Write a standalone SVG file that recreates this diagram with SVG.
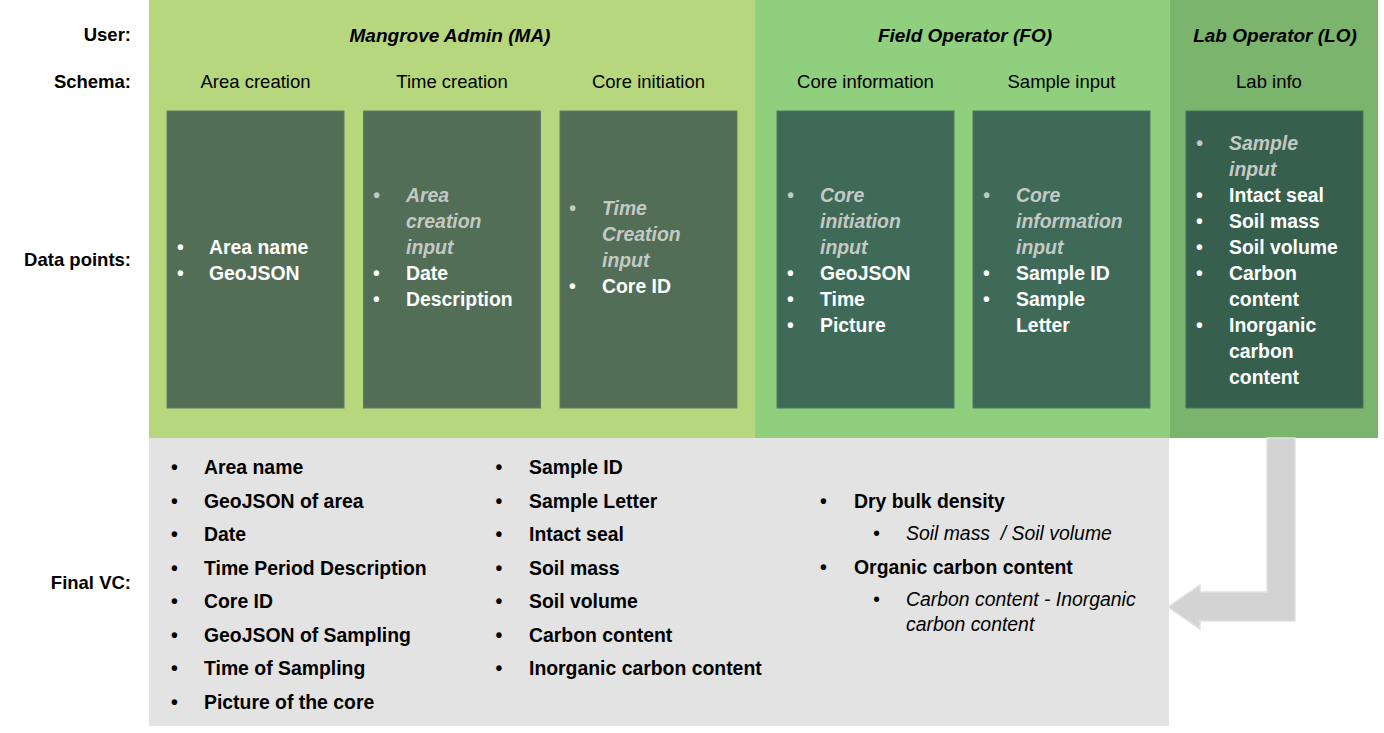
<svg xmlns="http://www.w3.org/2000/svg" width="1384" height="733" viewBox="0 0 1384 733">
<style>
text{font-family:"Liberation Sans",Arial,sans-serif;}
.lbl{font-size:18.5px;font-weight:bold;fill:#000;text-anchor:end;}
.hdr{font-size:19px;font-weight:bold;font-style:italic;fill:#000;text-anchor:middle;}
.sch{font-size:18.5px;fill:#000;text-anchor:middle;}
.w{font-size:19.4px;font-weight:bold;fill:#fff;}
.g{font-size:19.4px;font-weight:bold;font-style:italic;fill:#c4c9c5;}
.b{font-size:19.4px;font-weight:bold;fill:#000;}
.i{font-size:19.4px;font-style:italic;fill:#000;}
.boxma{fill:#526e57;stroke:#5f7b63;stroke-width:1;}
.boxfo{fill:#3f6a58;stroke:#4d7865;stroke-width:1;}
.boxlo{fill:#375f4e;stroke:#46705c;stroke-width:1;}
</style>
<rect x="0" y="0" width="1384" height="733" fill="#fff"/>
<g id="panels">
<rect x="149" y="0" width="606" height="438" fill="#b7d77e"/>
<rect x="755" y="0" width="415" height="438" fill="#8fcf7e"/>
<rect x="1170" y="0" width="208" height="438" fill="#7bb46c"/>
<rect x="149" y="438" width="1020" height="288" fill="#e3e3e3"/>
</g>
<g id="row-labels">
<text class="lbl" x="131" y="41">User:</text>
<text class="lbl" x="131" y="88">Schema:</text>
<text class="lbl" x="131" y="266">Data points:</text>
<text class="lbl" x="131" y="589">Final VC:</text>
</g>
<g id="users">
<text class="hdr" x="450" y="42">Mangrove Admin (MA)</text>
<text class="hdr" x="965" y="42">Field Operator (FO)</text>
<text class="hdr" x="1275" y="42">Lab Operator (LO)</text>
</g>
<g id="node-area-creation">
<text class="sch" x="255.5" y="88">Area creation</text>
<rect class="boxma" x="167" y="111" width="177" height="297"/>
<text class="w" x="177" y="254">•</text><text class="w" x="209" y="254">Area name</text>
<text class="w" x="177" y="280">•</text><text class="w" x="209" y="280">GeoJSON</text>
</g>
<g id="node-time-creation">
<text class="sch" x="452" y="88">Time creation</text>
<rect class="boxma" x="363.5" y="111" width="177" height="297"/>
<text class="g" x="373" y="202">•</text><text class="g" x="406" y="202">Area</text>
<text class="g" x="406" y="228">creation</text>
<text class="g" x="406" y="254">input</text>
<text class="w" x="373" y="280">•</text><text class="w" x="406" y="280">Date</text>
<text class="w" x="373" y="306">•</text><text class="w" x="406" y="306">Description</text>
</g>
<g id="node-core-initiation">
<text class="sch" x="648.5" y="88">Core initiation</text>
<rect class="boxma" x="560" y="111" width="177" height="297"/>
<text class="g" x="569" y="215">•</text><text class="g" x="602" y="215">Time</text>
<text class="g" x="602" y="241">Creation</text>
<text class="g" x="602" y="267">input</text>
<text class="w" x="569" y="293">•</text><text class="w" x="602" y="293">Core ID</text>
</g>
<g id="node-core-information">
<text class="sch" x="865.5" y="88">Core information</text>
<rect class="boxfo" x="777" y="111" width="177" height="297"/>
<text class="g" x="787" y="202">•</text><text class="g" x="820" y="202">Core</text>
<text class="g" x="820" y="228">initiation</text>
<text class="g" x="820" y="254">input</text>
<text class="w" x="787" y="280">•</text><text class="w" x="820" y="280">GeoJSON</text>
<text class="w" x="787" y="306">•</text><text class="w" x="820" y="306">Time</text>
<text class="w" x="787" y="332">•</text><text class="w" x="820" y="332">Picture</text>
</g>
<g id="node-sample-input">
<text class="sch" x="1061.5" y="88">Sample input</text>
<rect class="boxfo" x="973" y="111" width="177" height="297"/>
<text class="g" x="983" y="202">•</text><text class="g" x="1016" y="202">Core</text>
<text class="g" x="1016" y="228">information</text>
<text class="g" x="1016" y="254">input</text>
<text class="w" x="983" y="280">•</text><text class="w" x="1016" y="280">Sample ID</text>
<text class="w" x="983" y="306">•</text><text class="w" x="1016" y="306">Sample</text>
<text class="w" x="1016" y="332">Letter</text>
</g>
<g id="node-lab-info">
<text class="sch" x="1269" y="88">Lab info</text>
<rect class="boxlo" x="1186" y="111" width="177" height="297"/>
<text class="g" x="1196" y="150">•</text><text class="g" x="1229" y="150">Sample</text>
<text class="g" x="1229" y="176">input</text>
<text class="w" x="1196" y="202">•</text><text class="w" x="1229" y="202">Intact seal</text>
<text class="w" x="1196" y="228">•</text><text class="w" x="1229" y="228">Soil mass</text>
<text class="w" x="1196" y="254">•</text><text class="w" x="1229" y="254">Soil volume</text>
<text class="w" x="1196" y="280">•</text><text class="w" x="1229" y="280">Carbon</text>
<text class="w" x="1229" y="306">content</text>
<text class="w" x="1196" y="332">•</text><text class="w" x="1229" y="332">Inorganic</text>
<text class="w" x="1229" y="358">carbon</text>
<text class="w" x="1229" y="384">content</text>
</g>
<g id="node-final-vc">
<text class="b" x="171" y="474">•</text><text class="b" x="204" y="474">Area name</text>
<text class="b" x="171" y="507.5">•</text><text class="b" x="204" y="507.5">GeoJSON of area</text>
<text class="b" x="171" y="541">•</text><text class="b" x="204" y="541">Date</text>
<text class="b" x="171" y="574.5">•</text><text class="b" x="204" y="574.5">Time Period Description</text>
<text class="b" x="171" y="608">•</text><text class="b" x="204" y="608">Core ID</text>
<text class="b" x="171" y="641.5">•</text><text class="b" x="204" y="641.5">GeoJSON of Sampling</text>
<text class="b" x="171" y="675">•</text><text class="b" x="204" y="675">Time of Sampling</text>
<text class="b" x="171" y="708.5">•</text><text class="b" x="204" y="708.5">Picture of the core</text>
<text class="b" x="495.5" y="474">•</text><text class="b" x="529" y="474">Sample ID</text>
<text class="b" x="495.5" y="507.5">•</text><text class="b" x="529" y="507.5">Sample Letter</text>
<text class="b" x="495.5" y="541">•</text><text class="b" x="529" y="541">Intact seal</text>
<text class="b" x="495.5" y="574.5">•</text><text class="b" x="529" y="574.5">Soil mass</text>
<text class="b" x="495.5" y="608">•</text><text class="b" x="529" y="608">Soil volume</text>
<text class="b" x="495.5" y="641.5">•</text><text class="b" x="529" y="641.5">Carbon content</text>
<text class="b" x="495.5" y="675">•</text><text class="b" x="529" y="675">Inorganic carbon content</text>
<text class="b" x="820" y="507.5">•</text><text class="b" x="854" y="507.5">Dry bulk density</text>
<text class="i" x="873" y="540">•</text><text class="i" x="906" y="540" xml:space="preserve">Soil mass  / Soil volume</text>
<text class="b" x="820" y="573.5">•</text><text class="b" x="854" y="573.5">Organic carbon content</text>
<text class="i" x="873" y="606">•</text><text class="i" x="906" y="606">Carbon content - Inorganic</text>
<text class="i" x="906" y="631">carbon content</text>
</g>
<g id="connectors">
<path d="M1267,438 L1295,438 L1295,621 L1200,621 L1200,629 L1168,607 L1200,585 L1200,592 L1267,592 Z" fill="#d3d3d3" stroke="#e2e2e2" stroke-width="1.5"/>
</g>
</svg>
